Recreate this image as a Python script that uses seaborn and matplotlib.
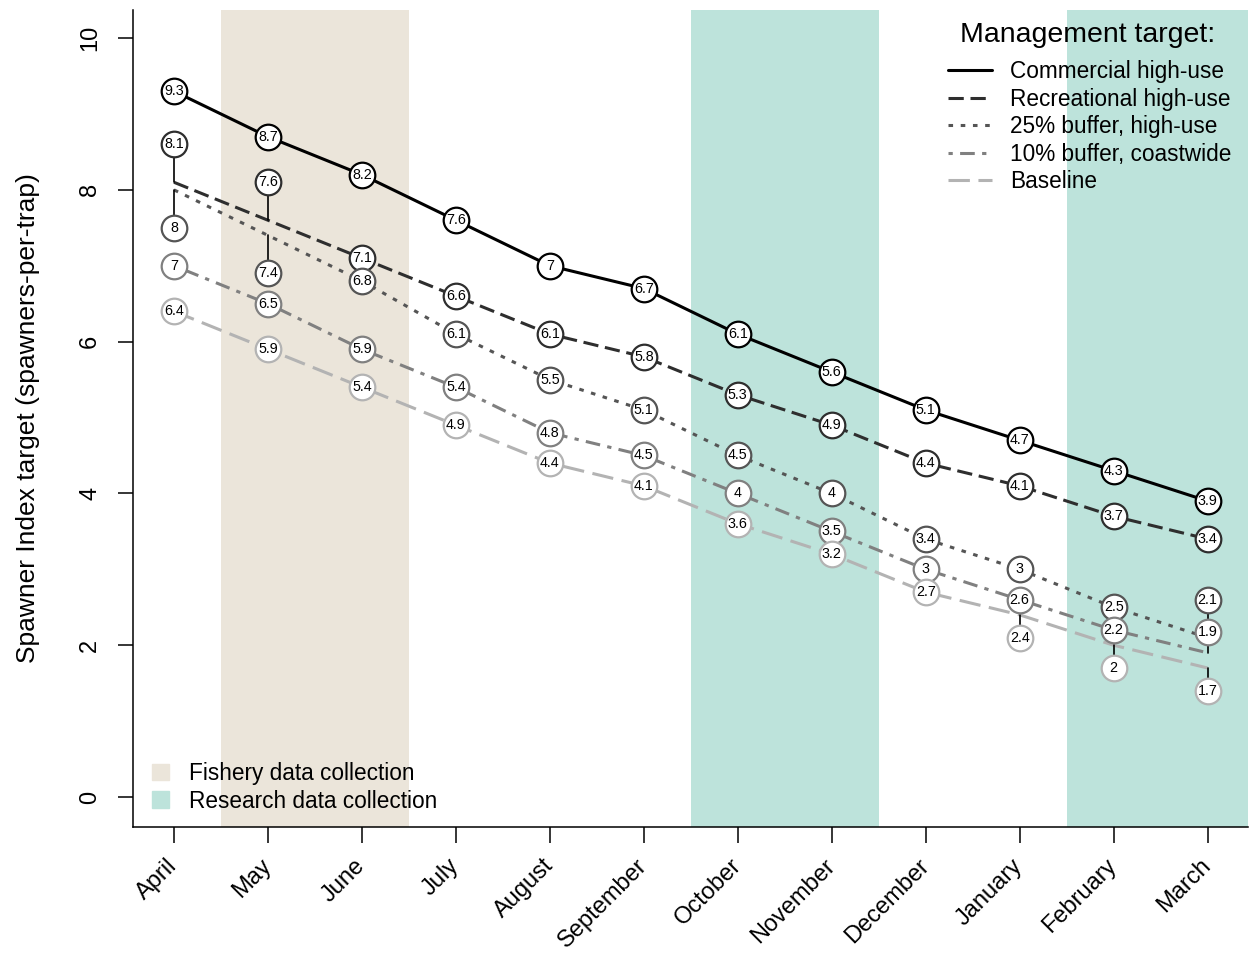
import matplotlib
matplotlib.use('Agg')
import matplotlib.pyplot as plt
from matplotlib.lines import Line2D
from matplotlib.patches import Patch
import seaborn as sns
import pandas as pd

# ---- data ----
months = ['April', 'May', 'June', 'July', 'August', 'September', 'October',
          'November', 'December', 'January', 'February', 'March']
commercial = [9.3, 8.7, 8.2, 7.6, 7.0, 6.7, 6.1, 5.6, 5.1, 4.7, 4.3, 3.9]
recreational = [8.1, 7.6, 7.1, 6.6, 6.1, 5.8, 5.3, 4.9, 4.4, 4.1, 3.7, 3.4]
buffer25 = [8.0, 7.4, 6.8, 6.1, 5.5, 5.1, 4.5, 4.0, 3.4, 3.0, 2.5, 2.1]
buffer10 = [7.0, 6.5, 5.9, 5.4, 4.8, 4.5, 4.0, 3.5, 3.0, 2.6, 2.2, 1.9]
baseline = [6.4, 5.9, 5.4, 4.9, 4.4, 4.1, 3.6, 3.2, 2.7, 2.4, 2.0, 1.7]

# label circles moved off the line (leader line drawn back to the line)
off_rec = [0.5, 0.5, 0, 0, 0, 0, 0, 0, 0, 0, 0, 0]
off_25 = [-0.5, -0.5, 0, 0, 0, 0, 0, 0, 0, 0, 0, 0.5]
off_10 = [0, 0, 0, 0, 0, 0, 0, 0, 0, 0, 0, 0.28]
off_base = [0, 0, 0, 0, 0, 0, 0, 0, 0, -0.3, -0.3, -0.3]
off_com = [0] * 12

series_names = ['Commercial high-use', 'Recreational high-use', '25% buffer, high-use',
                '10% buffer, coastwide', 'Baseline']
series_vals = [commercial, recreational, buffer25, buffer10, baseline]
series_off = [off_com, off_rec, off_25, off_10, off_base]
colors = ['#000000', '#2e2e2e', '#555555', '#808080', '#b3b3b3']
dashes = [None, (5, 2.2), (1.5, 2.5), (1.4, 2.4, 4.8, 2.4), (7, 2.8)]

fishery = (0.5, 2.5)
research = [(5.5, 7.5), (9.5, 12)]
fishery_col = '#ebe5da'
research_col = '#bde3db'

sns.set_style('ticks')
plt.rcParams['font.family'] = ['Liberation Sans', 'DejaVu Sans']
plt.rcParams['text.color'] = 'black'
plt.rcParams['axes.labelcolor'] = 'black'
plt.rcParams['xtick.color'] = 'black'
plt.rcParams['ytick.color'] = 'black'
plt.rcParams['axes.edgecolor'] = 'black'

fig = plt.figure(figsize=(12.49, 9.55), dpi=100)
ax = fig.add_axes([133 / 1249, 128 / 955, 1115 / 1249, 817 / 955])

ax.axvspan(*fishery, color=fishery_col, lw=0, zorder=0)
for a, b in research:
    ax.axvspan(a, b, color=research_col, lw=0, zorder=0)

x = list(range(len(months)))
for i, (vals, col, dsh) in enumerate(zip(series_vals, colors, dashes)):
    df = pd.DataFrame({'x': x, 'y': vals})
    sns.lineplot(data=df, x='x', y='y', ax=ax, color=col, lw=2.2, legend=False, zorder=2)
    if dsh is not None:
        ax.lines[-1].set_dashes(dsh)

# leader lines
for vals, offs in zip(series_vals, series_off):
    for xi, v, o in zip(x, vals, offs):
        if o != 0:
            ax.plot([xi, xi], [v, v + o], color='black', lw=1.2, zorder=2.5)

# labelled circles
for i, (vals, offs, col) in enumerate(zip(series_vals, series_off, colors)):
    ys = [v + o for v, o in zip(vals, offs)]
    ax.scatter(x, ys, s=340, facecolor='white', edgecolor=col, linewidth=1.6,
               zorder=3 + i * 0.1)
    for xi, yi, v in zip(x, ys, vals):
        ax.text(xi, yi, f'{v:g}', ha='center', va='center', fontsize=10.3,
                zorder=3.05 + i * 0.1)

ax.set_xlim(-0.436, 11.43)
ax.set_ylim(-0.395, 10.37)
ax.set_xticks(x)
ax.set_xticklabels(months, rotation=45, ha='right', rotation_mode='anchor', va='center')
ax.set_yticks([0, 2, 4, 6, 8, 10])
ax.tick_params(axis='y', labelrotation=90, length=11, width=1.1, pad=12, labelsize=17)
ax.tick_params(axis='x', length=11.5, width=1.1, pad=14, labelsize=17)
for lab in ax.get_yticklabels():
    lab.set_va('center')
ax.set_xlabel('')
ax.set_ylabel('Spawner Index target (spawners-per-trap)', fontsize=19, labelpad=28)
sns.despine(ax=ax)
ax.spines['left'].set_linewidth(1.1)
ax.spines['bottom'].set_linewidth(1.1)

handles = []
for name, col, dsh in zip(series_names, colors, dashes):
    h = Line2D([], [], color=col, lw=2.2, label=name)
    if dsh is not None:
        h.set_dashes(dsh)
    handles.append(h)
fig.text(1088 / 1249, 1 - 35 / 955, 'Management target:', ha='center', va='center',
         fontsize=20.5)
leg1 = ax.legend(handles=handles, loc='upper left', frameon=False, fontsize=16.3,
                 handlelength=1.95, handletextpad=0.8, labelspacing=0.2,
                 borderpad=0, borderaxespad=0,
                 bbox_to_anchor=(948 / 1249, 1 - 60 / 955), bbox_transform=fig.transFigure)
ax.add_artist(leg1)

patches = [Patch(color=fishery_col, label='Fishery data collection'),
           Patch(color=research_col, label='Research data collection')]
ax.legend(handles=patches, loc='upper left', frameon=False, fontsize=16.3,
          handlelength=0.75, handleheight=0.75, handletextpad=0.9, labelspacing=0.2,
          borderpad=0, borderaxespad=0,
          bbox_to_anchor=(152 / 1249, 1 - 762 / 955), bbox_transform=fig.transFigure)

fig.savefig('out.png', dpi=100)
